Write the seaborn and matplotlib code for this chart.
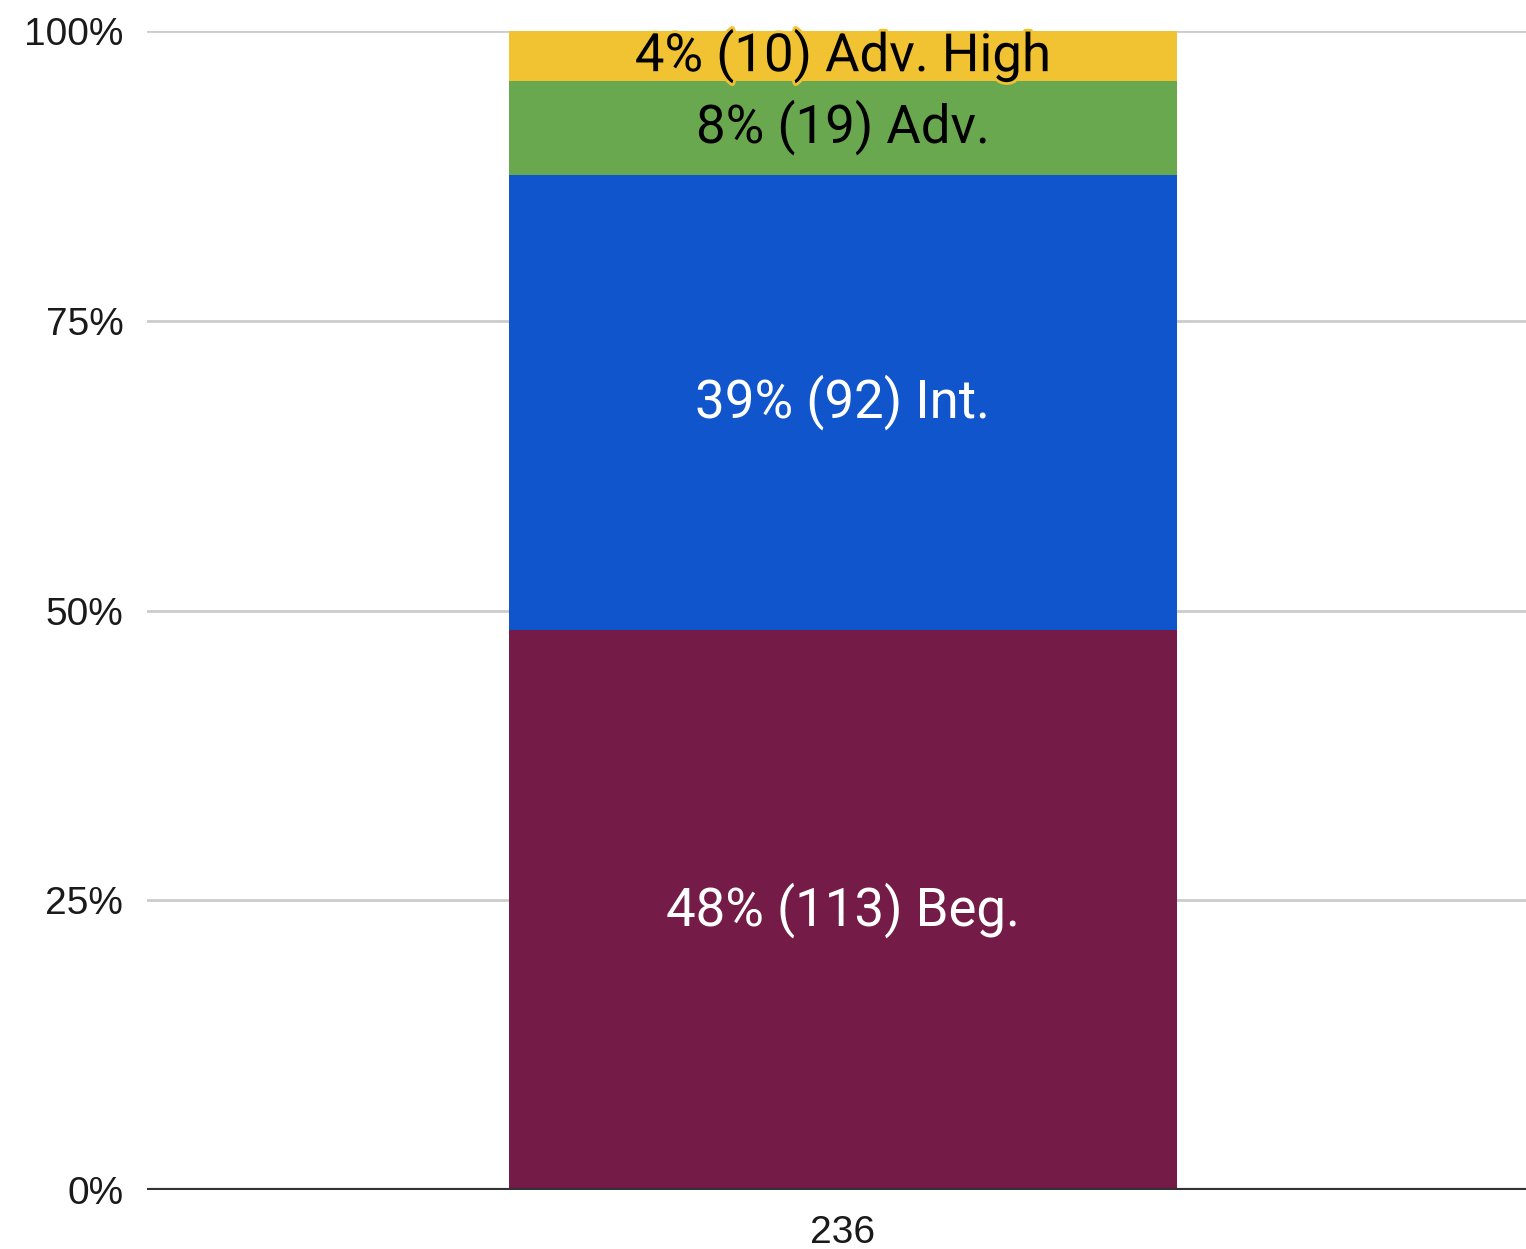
import matplotlib
matplotlib.use("Agg")
import matplotlib.pyplot as plt
import matplotlib.patheffects as pe
import numpy as np
import pandas as pd
import seaborn as sns

# Data
group = ["236"]
levels = ["Beg.", "Int.", "Adv.", "Adv. High"]
counts = [113, 92, 19, 10]
pcts = [48, 39, 8, 4]
colors = ["#741B47", "#1155CC", "#6AA84F", "#F1C232"]
text_colors = ["white", "white", "black", "black"]

sns.set_theme(style="white")
plt.rcParams['font.family'] = ['Liberation Sans', 'DejaVu Sans']

total = sum(counts)
shares = np.array(counts) / total * 100
tops = np.cumsum(shares)
bottoms = tops - shares

fig = plt.figure(figsize=(15.26, 12.49), dpi=100)
ax = fig.add_axes([0.0963, 0.0472, 0.9037, 0.928])

# draw stacked segments, tallest first so the lower ones sit on top
for i in reversed(range(len(levels))):
    df = pd.DataFrame({"group": group, "value": [tops[i]]})
    sns.barplot(data=df, x="group", y="value", color=colors[i], width=0.4844,
                saturation=1, ax=ax, zorder=3, linewidth=0)

for i in range(len(levels)):
    label = f"{pcts[i]}% ({counts[i]}) {levels[i]}"
    y = (bottoms[i] + tops[i]) / 2
    t = ax.text(0, y, label, ha="center", va="center", fontsize=38,
                color=text_colors[i], family=["Roboto", "DejaVu Sans"], zorder=5)
    if levels[i] == "Adv. High":
        t.set_path_effects([pe.withStroke(linewidth=4, foreground=colors[i])])

ax.set_xlim(-0.5046, 0.4954)
ax.set_ylim(0, 100)
ax.set_yticks([0, 25, 50, 75, 100])
ax.set_yticklabels(["0%", "25%", "50%", "75%", "100%"])
ax.yaxis.grid(True, color="#cccccc", linewidth=2)
ax.set_axisbelow(True)
ax.axhline(0, color="#333333", linewidth=3, zorder=4)
for s in ax.spines.values():
    s.set_visible(False)
ax.tick_params(axis="both", length=0, labelsize=28, labelcolor="#1a1a1a")
ax.tick_params(axis="y", pad=17)
ax.tick_params(axis="x", pad=18)
ax.set_xlabel("")
ax.set_ylabel("")

fig.savefig("out.png", dpi=100, facecolor="white")
